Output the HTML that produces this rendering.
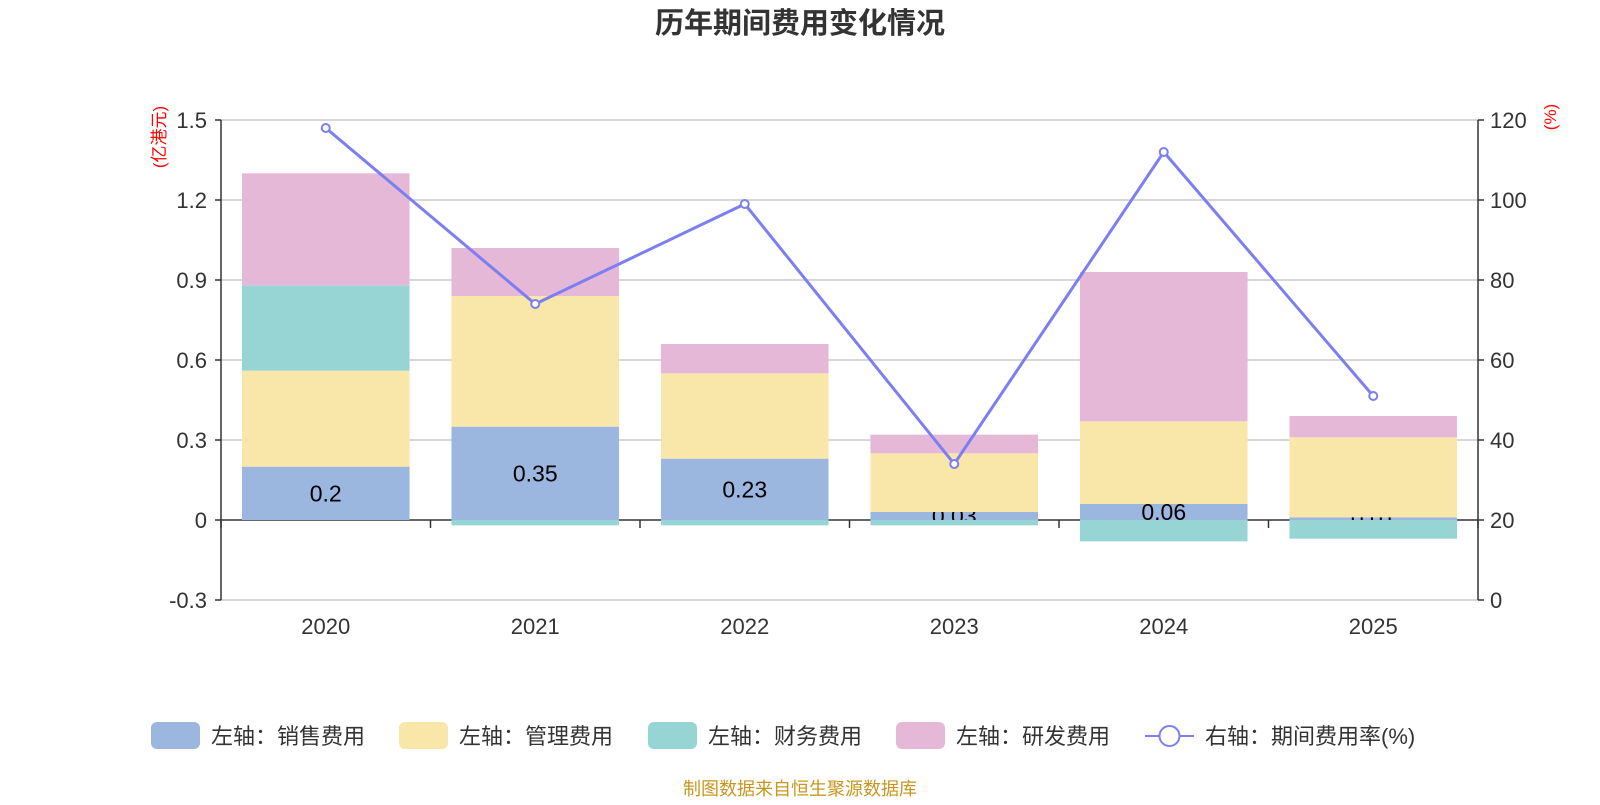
<!DOCTYPE html>
<html><head><meta charset="utf-8"><style>
body{margin:0;background:#fff;}
svg text{font-family:"Liberation Sans","Noto Sans CJK SC",sans-serif;}
</style></head><body>
<svg id="c" width="1600" height="800">
<text x="800" y="33" text-anchor="middle" font-size="29" font-weight="bold" fill="#333">历年期间费用变化情况</text>
<g id="grid"></g><g id="bars"></g><g id="axes"></g><g id="line"></g>
<text transform="translate(165,137) rotate(-90)" text-anchor="middle" font-size="17" fill="#f00">(亿港元)</text>
<text transform="translate(1556,117) rotate(-90)" text-anchor="middle" font-size="17" fill="#f00">(%)</text>
<g id="legend"></g>
<text x="800" y="795" text-anchor="middle" font-size="18" fill="#c8961e">制图数据来自恒生聚源数据库</text>
</svg>
<script>
const years=["2020","2021","2022","2023","2024","2025"];
const sales=[0.2,0.35,0.23,0.03,0.06,0.01];
const mgmt=[0.36,0.49,0.32,0.22,0.31,0.30];
const fin=[0.32,-0.02,-0.02,-0.02,-0.08,-0.07];
const rd=[0.42,0.18,0.11,0.07,0.56,0.08];
const rate=[118,74,99,34,112,51];
const leftTicks=[-0.3,0,0.3,0.6,0.9,1.2,1.5];
const rightTicks=[0,20,40,60,80,100,120];
const salesLabels=["0.2","0.35","0.23","0.03","0.06","0.01"];
const NS="http://www.w3.org/2000/svg";
const X0=221,X1=1478,bw=(X1-X0)/years.length;
const yL=v=>600-(v+0.3)/1.8*480;
const yR=v=>600-v/120*480;
const cx=i=>X0+bw*(i+0.5);
function mk(p,t,a){const e=document.createElementNS(NS,t);for(const k in a)e.setAttribute(k,a[k]);document.getElementById(p).appendChild(e);return e;}
leftTicks.forEach(t=>{
 const g=mk('grid','line',{x1:X0,x2:X1,y1:yL(t),y2:yL(t),stroke:t===0?'#333':'#ccc','stroke-width':1.5});
 
 
 const l=mk('axes','text',{x:X0-14,y:yL(t)+8,'text-anchor':'end','font-size':22,fill:'#333'});l.textContent=t===0?'0':t.toFixed(1);
 
 
 mk('axes','line',{x1:X0-6,x2:X0,y1:yL(t),y2:yL(t),stroke:'#333','stroke-width':1.5});
});
rightTicks.forEach(t=>{
 const l=mk('axes','text',{x:X1+12,y:yR(t)+8,'font-size':22,fill:'#333'});l.textContent=t;
 
 
 mk('axes','line',{x1:X1,x2:X1+6,y1:yR(t),y2:yR(t),stroke:'#333','stroke-width':1.5});
});
mk('axes','line',{x1:X0,x2:X0,y1:120,y2:600,stroke:'#333','stroke-width':1.5});
mk('axes','line',{x1:X1,x2:X1,y1:120,y2:600,stroke:'#333','stroke-width':1.5});
for(let i=0;i<=years.length;i++)mk('axes','line',{x1:X0+bw*i,x2:X0+bw*i,y1:yL(0),y2:yL(0)+8,stroke:'#333','stroke-width':1.5});
years.forEach((y,i)=>{const t=mk('axes','text',{x:cx(i),y:634,'text-anchor':'middle','font-size':22,fill:'#333'});t.textContent=y;
 
 });
const w=bw*0.8;
function bar(i,a,b,col,name){const y1=yL(Math.max(a,b)),y2=yL(Math.min(a,b));
 const r=mk('bars','rect',{x:cx(i)-w/2,y:y1,width:w,height:y2-y1,fill:col});
 
 }
years.forEach((y,i)=>{
 bar(i,0,sales[i],'#9bb7e0','bar-sales-'+y);
 const t=mk('bars','text',{x:cx(i),y:(yL(0)+yL(sales[i]))/2+8,'text-anchor':'middle','font-size':23,fill:'#000'});t.textContent=salesLabels[i];
 
 
 bar(i,sales[i],sales[i]+mgmt[i],'#f8e7a9','bar-admin-'+y);
 let top=sales[i]+mgmt[i];
 if(fin[i]>=0){bar(i,top,top+fin[i],'#97d4d4','bar-finance-'+y);top+=fin[i];}
 else bar(i,0,fin[i],'#97d4d4','bar-finance-'+y);
 bar(i,top,top+rd[i],'#e6b8d8','bar-rd-'+y);
});
const pts=rate.map((v,i)=>cx(i)+','+yR(v)).join(' ');
const pl=mk('line','polyline',{points:pts,fill:'none',stroke:'#7b7ff0','stroke-width':3});


rate.forEach((v,i)=>{const c=mk('line','circle',{cx:cx(i),cy:yR(v),r:4,fill:'#fff',stroke:'#7b7ff0','stroke-width':2});
 
 });
const leg=[["左轴：销售费用",'#9bb7e0',151],["左轴：管理费用",'#f8e7a9',399],["左轴：财务费用",'#97d4d4',648],["左轴：研发费用",'#e6b8d8',896]];
leg.forEach(l=>{const r=mk('legend','rect',{x:l[2],y:722,width:49,height:27,rx:6,fill:l[1]});
 
 
 const t=mk('legend','text',{x:l[2]+60,y:744,'font-size':22,fill:'#333'});t.textContent=l[0];
 
 });
mk('legend','line',{x1:1145,x2:1194,y1:736,y2:736,stroke:'#7b7ff0','stroke-width':2});
const lc=mk('legend','circle',{cx:1169.5,cy:736,r:10,fill:'#fff',stroke:'#7b7ff0','stroke-width':2});


const lt=mk('legend','text',{x:1205,y:744,'font-size':22,fill:'#333'});lt.textContent="右轴：期间费用率(%)";


</script>
</body></html>
